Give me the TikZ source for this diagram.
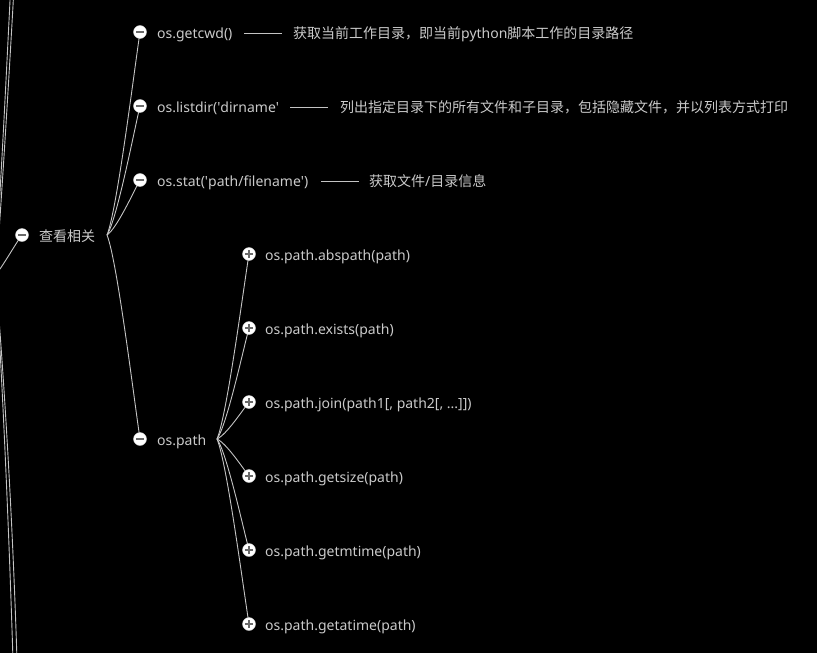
\documentclass[tikz,border=0pt]{standalone}
\usepackage{fontspec}
\setmainfont{Noto Sans}
\newfontfamily\cjk{Noto Sans CJK SC}
\usetikzlibrary{calc}
\definecolor{txt}{HTML}{CACACA}
\definecolor{lnc}{HTML}{C4C4C4}
\definecolor{knobmark}{HTML}{6A6A6A}
\tikzset{
  conn/.style={draw=lnc, line width=0.9pt},
  lbl/.style={anchor=base west, inner sep=0pt, text=txt, font=\fontsize{14pt}{16pt}\selectfont},
  dashrule/.style={draw=lnc, line width=0.9pt},
  knob/.style={circle, fill=white, draw=white!80!black, line width=0.4pt, minimum size=13pt, inner sep=0pt},
  minusknob/.style={knob, path picture={\draw[draw=knobmark, line width=1.5pt] ($(path picture bounding box.center)+(-3.8pt,0pt)$) -- ($(path picture bounding box.center)+(3.8pt,0pt)$);}},
  plusknob/.style={knob, path picture={
      \draw[draw=knobmark, line width=1.5pt] ($(path picture bounding box.center)+(-3.8pt,0pt)$) -- ($(path picture bounding box.center)+(3.8pt,0pt)$);
      \draw[draw=knobmark, line width=1.5pt] ($(path picture bounding box.center)+(0pt,-3.8pt)$) -- ($(path picture bounding box.center)+(0pt,3.8pt)$);}},
}
\newcommand{\curveto}[2]{%
  \draw[conn] let \p1=(#1), \p2=(#2) in
    (\p1) .. controls ({\x1+0.3*(\x2-\x1)},{\y1+0.12*(\y2-\y1)})
              and ({\x2-0.2*(\x2-\x1)},{\y2-0.22*(\y2-\y1)}) .. (\p2);}
\begin{document}
\begin{tikzpicture}[x=1pt,y=-1pt]
\fill[black] (0,0) rectangle (817,653);
\useasboundingbox (0,0) rectangle (817,653);
\begin{scope}
\clip (0,0) rectangle (817,653);
% lines of the parent level, running off the left edge
\coordinate (pa) at (-3,240);
\coordinate (pb) at (-1,232);
\coordinate (pc) at (-3,300);
\coordinate (pd) at (-2,306);
\coordinate (ta) at (10.3,-5);
\coordinate (tb) at (13.6,-5);
\coordinate (ba) at (13,660);
\coordinate (bb) at (17,660);
\coordinate (p0) at (-25,292);
\draw[conn] (pa) .. controls (2,165) and (7,60) .. (ta);
\draw[conn] (pb) .. controls (4,160) and (10,60) .. (tb);
\draw[conn] (pc) .. controls (1,360) and (8,500) .. (ba);
\draw[conn] (pd) .. controls (3,370) and (12,500) .. (bb);
\coordinate (c0p) at (22,235);
\draw[conn] (p0) .. controls (-10,292) and (12,248) .. (c0p);
\end{scope}
\node[minusknob] (c0) at (22,235) {};
\node[lbl] (t0) at (39,241) {\cjk 查看相关};
\coordinate (j0) at (107,235);

\coordinate (k1) at (140,32);
\coordinate (k2) at (140,106);
\coordinate (k3) at (140,180);
\coordinate (k4) at (140,439);
\curveto{j0}{k1}
\curveto{j0}{k2}
\curveto{j0}{k3}
\curveto{j0}{k4}
\node[minusknob] (c1) at (k1) {};
\node[minusknob] (c2) at (k2) {};
\node[minusknob] (c3) at (k3) {};
\node[minusknob] (c4) at (k4) {};

\node[lbl] (t1) at (157,38) {os.getcwd()};
\node[lbl] (d1) at (293,38) {{\cjk 获取当前工作目录，即当前}python{\cjk 脚本工作的目录路径}};
\draw[dashrule] (244,33) -- (282,33);

\node[lbl] (t2) at (157,112) {os.listdir(\textquotesingle dirname\textquotesingle};
\node[lbl] (d2) at (340,112) {\cjk 列出指定目录下的所有文件和子目录，包括隐藏文件，并以列表方式打印};
\draw[dashrule] (290,107) -- (328,107);

\node[lbl] (t3) at (157,186) {os.stat(\textquotesingle path/filename\textquotesingle)};
\node[lbl] (d3) at (369,186) {{\cjk 获取文件}/{\cjk 目录信息}};
\draw[dashrule] (321,181) -- (359,181);

\node[lbl] (t4) at (157,445) {os.path};
\coordinate (j1) at (217,439);

\coordinate (m1) at (249,254);
\coordinate (m2) at (249,328);
\coordinate (m3) at (249,402);
\coordinate (m4) at (249,476);
\coordinate (m5) at (249,550);
\coordinate (m6) at (249,624);
\curveto{j1}{m1}
\curveto{j1}{m2}
\curveto{j1}{m3}
\curveto{j1}{m4}
\curveto{j1}{m5}
\curveto{j1}{m6}
\node[plusknob] (e1) at (m1) {};
\node[plusknob] (e2) at (m2) {};
\node[plusknob] (e3) at (m3) {};
\node[plusknob] (e4) at (m4) {};
\node[plusknob] (e5) at (m5) {};
\node[plusknob] (e6) at (m6) {};
\node[lbl] (u1) at (265,260) {os.path.abspath(path)};
\node[lbl] (u2) at (265,334) {os.path.exists(path)};
\node[lbl] (u3) at (265,408) {os.path.join(path1[, path2[, ...]])};
\node[lbl] (u4) at (265,482) {os.path.getsize(path)};
\node[lbl] (u5) at (265,556) {os.path.getmtime(path)};
\node[lbl] (u6) at (265,630) {os.path.getatime(path)};
\end{tikzpicture}
\end{document}
